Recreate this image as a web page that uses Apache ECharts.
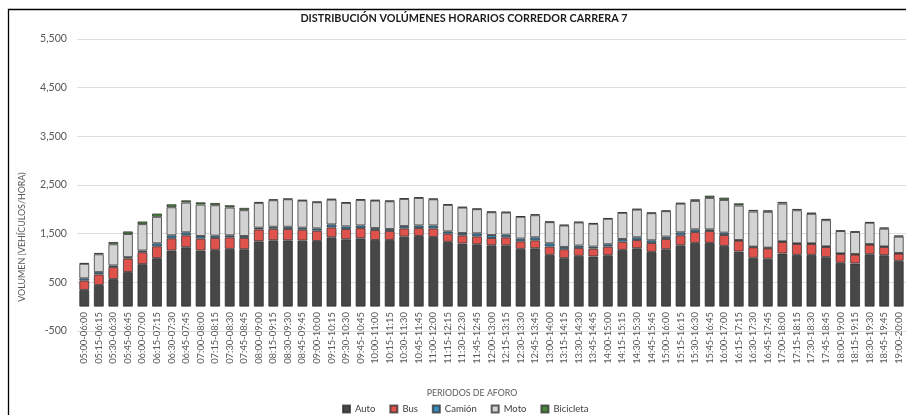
<!DOCTYPE html>
<html><head><meta charset="utf-8">
<script src="https://cdn.jsdelivr.net/npm/echarts@6/dist/echarts.min.js"></script>
<style>html,body{margin:0;padding:0;background:#fff}#c{width:906px;height:415px}</style>
</head><body><div id="c"></div>
<script>
const categories = ["05:00-06:00","05:15-06:15","05:30-06:30","05:45-06:45","06:00-07:00","06:15-07:15","06:30-07:30","06:45-07:45","07:00-08:00","07:15-08:15","07:30-08:30","07:45-08:45","08:00-09:00","08:15-09:15","08:30-09:30","08:45-09:45","09:00-10:00","09:15-10:15","09:30-10:30","09:45-10:45","10:00-11:00","10:15-11:15","10:30-11:30","10:45-11:45","11:00-12:00","11:15-12:15","11:30-12:30","11:45-12:45","12:00-13:00","12:15-13:15","12:30-13:30","12:45-13:45","13:00-14:00","13:15-14:15","13:30-14:30","13:45-14:45","14:00-15:00","14:15-15:15","14:30-15:30","14:45-15:45","15:00-16:00","15:15-16:15","15:30-16:30","15:45-16:45","16:00-17:00","16:15-17:15","16:30-17:30","16:45-17:45","17:00-18:00","17:15-18:15","17:30-18:30","17:45-18:45","18:00-19:00","18:15-19:15","18:30-19:30","18:45-19:45","19:00-20:00"];
const auto = [344,446,566,711,874,997,1153,1221,1153,1166,1187,1180,1343,1363,1363,1357,1350,1425,1384,1404,1370,1370,1438,1452,1431,1330,1296,1282,1261,1261,1187,1200,1064,997,1044,1031,1057,1166,1200,1125,1180,1261,1309,1309,1248,1132,1004,984,1092,1064,1064,1017,901,888,1078,1057,941];
const bus = [190,217,247,279,245,244,252,245,245,246,238,232,245,238,232,224,211,204,211,211,204,184,170,163,177,170,170,163,150,164,156,163,170,183,163,162,177,170,170,184,211,205,224,245,224,225,217,216,238,225,225,210,184,183,197,170,151];
const camion = [48,47,34,27,34,61,61,61,54,47,41,40,34,41,47,41,47,61,54,54,41,41,48,54,61,47,47,61,61,54,55,62,68,47,48,41,48,55,55,54,47,61,55,34,48,12,12,12,12,12,12,12,10,10,10,10,10];
const moto = [298,367,435,476,544,544,577,612,646,625,571,530,510,545,565,558,538,510,483,524,565,571,558,565,538,544,524,497,469,456,448,455,435,442,476,469,523,537,571,558,524,591,585,646,673,709,722,737,776,681,606,539,459,453,439,365,336];
const bicicleta = [17,28,48,54,54,68,62,47,47,48,48,49,20,20,14,13,13,14,13,14,13,14,13,14,14,14,13,13,14,14,14,20,14,14,13,14,14,13,13,14,14,14,34,48,48,47,34,33,35,27,28,27,13,13,14,27,27];
const yTickLabels = ["-500","500","1,500","2,500","3,500","4,500","5,500"];

const FONT = 'Lato';
// font sizes chosen so that text widths match the reference
const ctx = document.createElement('canvas').getContext('2d');
function fit(text, target, weight) {
  ctx.font = (weight || 'normal') + ' 20px ' + FONT;
  const w = ctx.measureText(text).width;
  return Math.round(20 * target / w * 10) / 10;
}
const titleSize = fit('DISTRIBUCIÓN VOLÚMENES HORARIOS CORREDOR CARRERA 7', 328, 'bold');
const xLabSize = fit('05:00-06:00', 52);
const yLabSize = fit('5,500', 27);
const yNameSize = fit('VOLUMEN (VEHÍCULOS/HORA)', 130);
const xNameSize = fit('PERIODOS DE AFORO', 91);
const legSize = fit('Bicicleta', 35);

const GRID_TOP = 39, GRID_H = 292, Y_MIN = -500, Y_MAX = 5500;
const zeroOffset = GRID_H * (0 - Y_MIN) / (Y_MAX - Y_MIN); // px from bottom edge to value 0

const border = 'rgba(45,45,45,0.75)';
function mk(name, data, color) {
  return { name, type: 'bar', stack: 't', data, barWidth: 10,
    itemStyle: { color, borderColor: border, borderWidth: 1 } };
}
const chart = echarts.init(document.getElementById('c'), null, { renderer: 'canvas' });
chart.setOption({
  animation: false,
  title: { text: 'DISTRIBUCIÓN VOLÚMENES HORARIOS CORREDOR CARRERA 7', left: 464, top: 13, padding: 0, textAlign: 'center',
    textStyle: { fontFamily: FONT, fontWeight: 'bold', fontSize: titleSize, color: '#1a1a1a' } },
  grid: { left: 77, right: -6, top: GRID_TOP, height: GRID_H, containLabel: false },
  legend: { left: 342, top: 404, padding: 0, itemWidth: 7, itemHeight: 7, itemGap: 14, icon: 'rect',
    textStyle: { fontFamily: FONT, fontSize: legSize, color: '#404040' } },
  xAxis: { type: 'category', data: categories, offset: -zeroOffset,
    axisLine: { show: false, onZero: false }, axisTick: { show: false },
    axisLabel: { rotate: 90, interval: 0, margin: 5.5, fontFamily: FONT, fontSize: xLabSize, color: '#595959' } },
  yAxis: { type: 'value', min: Y_MIN, max: Y_MAX, interval: 500,
    axisLine: { show: false }, axisTick: { show: false },
    axisLabel: { margin: 10, fontFamily: FONT, fontSize: yLabSize, color: '#595959',
      formatter: v => { const i = (v + 500) / 1000; return Number.isInteger(i) ? yTickLabels[i] : ''; } },
    splitLine: { lineStyle: { color: ['#dedede', 'rgba(0,0,0,0)'], width: 1 } } },
  graphic: [
    { type: 'rect', shape: { x: 8.5, y: 9.5, width: 1000, height: 500 }, style: { fill: 'none', stroke: '#000', lineWidth: 1.3 }, silent: true },
    { type: 'text', x: 22, y: 237, rotation: Math.PI / 2,
      style: { text: 'VOLUMEN (VEHÍCULOS/HORA)', fontFamily: FONT, fontSize: yNameSize, fill: '#595959', textAlign: 'center', textVerticalAlign: 'middle' } },
    { type: 'text', x: 472, y: 393,
      style: { text: 'PERIODOS DE AFORO', fontFamily: FONT, fontSize: xNameSize, fill: '#595959', textAlign: 'center', textVerticalAlign: 'middle' } }
  ],
  series: [
    mk('Auto', auto, '#474747'),
    mk('Bus', bus, '#e0524c'),
    mk('Camión', camion, '#3a8cbd'),
    mk('Moto', moto, '#d3d3d3'),
    mk('Bicicleta', bicicleta, '#4b8a3c')
  ]
});
</script></body></html>
